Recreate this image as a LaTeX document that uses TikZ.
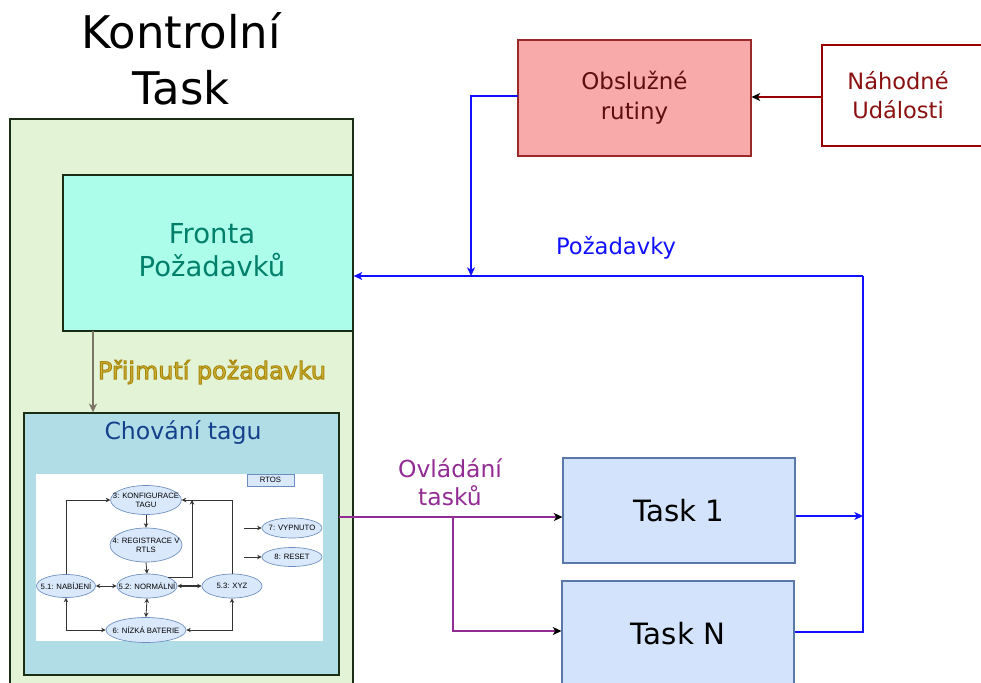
\documentclass[tikz,border=0pt]{standalone}
\usepackage{fontspec}
\setmainfont{DejaVu Sans}
\newfontfamily\diafont{Liberation Sans}
\usetikzlibrary{shapes.geometric,arrows.meta}
\definecolor{outerfill}{HTML}{E2F3D6}
\definecolor{outerdraw}{HTML}{1A2E16}
\definecolor{frontafill}{HTML}{ADFDEB}
\definecolor{frontatext}{HTML}{00806A}
\definecolor{chovfill}{HTML}{B0DDE6}
\definecolor{chovtext}{HTML}{15418C}
\definecolor{obsfill}{HTML}{F8A9AA}
\definecolor{obsdraw}{HTML}{9A2A2A}
\definecolor{obstext}{HTML}{5C0F0F}
\definecolor{nahdraw}{HTML}{990000}
\definecolor{nahtext}{HTML}{8B1111}
\definecolor{taskfill}{HTML}{D4E3FC}
\definecolor{taskdraw}{HTML}{5A78AA}
\definecolor{reqblue}{HTML}{1010FF}
\definecolor{ctrlpurple}{HTML}{922B93}
\definecolor{prijgold}{HTML}{CCAE38}
\definecolor{grayarrow}{HTML}{7D7468}
\definecolor{ellfill}{HTML}{DAE8FC}
\definecolor{elldraw}{HTML}{6C8EBF}
\newcommand{\outlinedtext}[1]{\special{pdf:literal direct 2 Tr 0.7 w 0.66 0.53 0.04 RG}#1\special{pdf:literal direct 0 Tr}}
\begin{document}
\begin{tikzpicture}[x=0.75pt,y=-0.75pt,
  box/.style={draw, rectangle, inner sep=0pt, align=center},
  lbl/.style={inner sep=0pt, align=center},
  bigtip/.style={-{Stealth[length=6.5pt,width=6pt,inset=1.8pt]}},
  blacktip/.style={-{Stealth[length=6.5pt,width=6pt,inset=1.8pt,black]}},
  ell/.style={ellipse, draw=elldraw, fill=ellfill, line width=0.5pt, inner xsep=-6pt, inner ysep=-1pt,
    align=center, font=\diafont\fontsize{5.8}{6.6}\selectfont},
  ia/.style={draw=black!80, line width=0.6pt, -{Stealth[length=3.4pt,width=3.4pt]}},
  iab/.style={draw=black!80, line width=0.6pt, {Stealth[length=3.4pt,width=3.4pt]}-{Stealth[length=3.4pt,width=3.4pt]}}
]
\useasboundingbox (0,0) rectangle (981,682);

% title
\node[lbl, font=\fontsize{33.75}{42}\selectfont] (title) at (181,59) {Kontrolní\\Task};

% outer green box
\node[box, fill=outerfill, draw=outerdraw, line width=1.3pt, minimum width=257.25pt, minimum height=435.75pt] (outer) at (181.5,409.5) {};

% Fronta
\node[box, fill=frontafill, draw=outerdraw, line width=1pt, minimum width=217.5pt, minimum height=117pt] (fronta) at (208,253) {};
\node[lbl, text=frontatext, font=\fontsize{20.6}{24.75}\selectfont] (frontaT) at (212,250) {Fronta\\Požadavků};

% Chovani
\node[box, fill=chovfill, draw=outerdraw, line width=1pt, minimum width=236.25pt, minimum height=196.5pt] (chov) at (181.5,544) {};
\node[lbl, text=chovtext, font=\fontsize{17.7}{20}\selectfont] (chovT) at (183,433) {Chování tagu};
\node[rectangle, fill=white, inner sep=0pt, minimum width=215.25pt, minimum height=125.25pt] (img) at (179.5,557.5) {};

% arrow fronta -> chovani
\coordinate (fa) at (93,331);
\draw[grayarrow, line width=1.5pt, bigtip] (fa) -- (fa |- chov.north);
\node[lbl, text=prijgold, font=\fontsize{17.9}{20}\selectfont] (prij) at (212,372) {\outlinedtext{Přijmutí požadavku}};

% inner state diagram
\node[draw=elldraw, fill=ellfill, line width=0.5pt, inner sep=0pt, minimum width=35.25pt, minimum height=9pt, font=\diafont\fontsize{5.8}{6.6}\selectfont] (rtos) at (270.5,480) {RTOS};
\node[ell, minimum width=49.5pt, minimum height=21.75pt] (k3) at (146,500) {3: KONFIGURACE\\TAGU};
\node[ell, minimum width=49.5pt, minimum height=25.5pt] (k4) at (146,545) {4: REGISTRACE V\\RTLS};
\node[ell, minimum width=45pt, minimum height=18pt] (n52) at (147,586) {5.2: NORMÁLNÍ};
\node[ell, minimum width=44.25pt, minimum height=17.25pt] (n51) at (66,586) {5.1: NABÍJENÍ};
\node[ell, minimum width=45pt, minimum height=18pt] (n53) at (232,586) {5.3: XYZ};
\node[ell, minimum width=60pt, minimum height=18.75pt] (n6) at (146,630) {6: NÍZKÁ BATERIE};
\node[ell, minimum width=45pt, minimum height=15pt] (n7) at (292,528) {7: VYPNUTO};
\node[ell, minimum width=45pt, minimum height=14.25pt] (n8) at (292,557) {8: RESET};
\coordinate (a7) at (244,528);
\coordinate (a8) at (244,557);
\coordinate (c1) at (192,500);
\draw[ia] (a7) -- (n7.west);
\draw[ia] (a8) -- (n8.west);
\draw[ia] (n51.north) |- (k3.west);
\draw[ia] (n53.north) |- (k3.east);
\draw[ia] (n52.north east) -| (c1);
\draw[ia] (k3.south) -- (k4.north);
\draw[ia] (k4.south) -- (n52.north);
\draw[iab] (n51.east) -- (n52.west);
\draw[iab, line width=1pt] (n52.east) -- (n53.west);
\draw[iab] (n52.south) -- (n6.north);
\draw[iab] (n51.south) |- (n6.west);
\draw[iab] (n53.south) |- (n6.east);

% Obsluzne rutiny
\node[box, fill=obsfill, draw=obsdraw, line width=0.8pt, minimum width=174.75pt, minimum height=87pt, text=obstext, font=\fontsize{17.2}{22.5}\selectfont] (obs) at (634.5,98) {Obslužné\\rutiny};

% Nahodne udalosti
\node[box, fill=white, draw=nahdraw, line width=1pt, minimum width=133.5pt, minimum height=75.75pt] (nah) at (911,95.5) {};
\node[lbl, text=nahtext, font=\fontsize{16.9}{21.75}\selectfont] (nahT) at (898,95) {Náhodné\\Události};

% Tasks
\node[box, fill=taskfill, draw=taskdraw, line width=0.8pt, minimum width=174pt, minimum height=78.75pt, font=\fontsize{22}{26}\selectfont] (t1) at (679,510.5) {Task 1};
\node[box, fill=taskfill, draw=taskdraw, line width=0.8pt, minimum width=174pt, minimum height=78.75pt, font=\fontsize{22}{26}\selectfont] (tn) at (678,633.5) {Task N};

% red arrow
\draw[nahdraw, line width=1pt, blacktip] (nah.west |- 0,97) -- (obs.east |- 0,97);

% blue request lines
\coordinate (j1) at (471,276);
\coordinate (jr) at (863,276);
\coordinate (ob) at (518,96);
\draw[reqblue, line width=1pt, bigtip] (ob) -| (j1);
\draw[reqblue, line width=1pt, bigtip] (jr) -- (fronta.east |- jr);
\draw[reqblue, line width=1pt] (tn.east |- 0,632) -| (jr);
\draw[reqblue, line width=1pt, bigtip] (t1.east |- 0,516) -- (jr |- 0,516);
\node[lbl, text=reqblue, font=\fontsize{17}{20}\selectfont] (pozT) at (616,248) {Požadavky};

% purple control lines
\coordinate (p0) at (339,517);
\coordinate (pb) at (453,517);
\draw[ctrlpurple, line width=1pt, blacktip] (p0) -- (t1.west |- p0);
\draw[ctrlpurple, line width=1pt, blacktip] (pb) |- (tn.west |- 0,631);
\node[lbl, text=ctrlpurple, font=\fontsize{17.6}{21}\selectfont] (ovlT) at (450,482) {Ovládání\\tasků};
\end{tikzpicture}
\end{document}
